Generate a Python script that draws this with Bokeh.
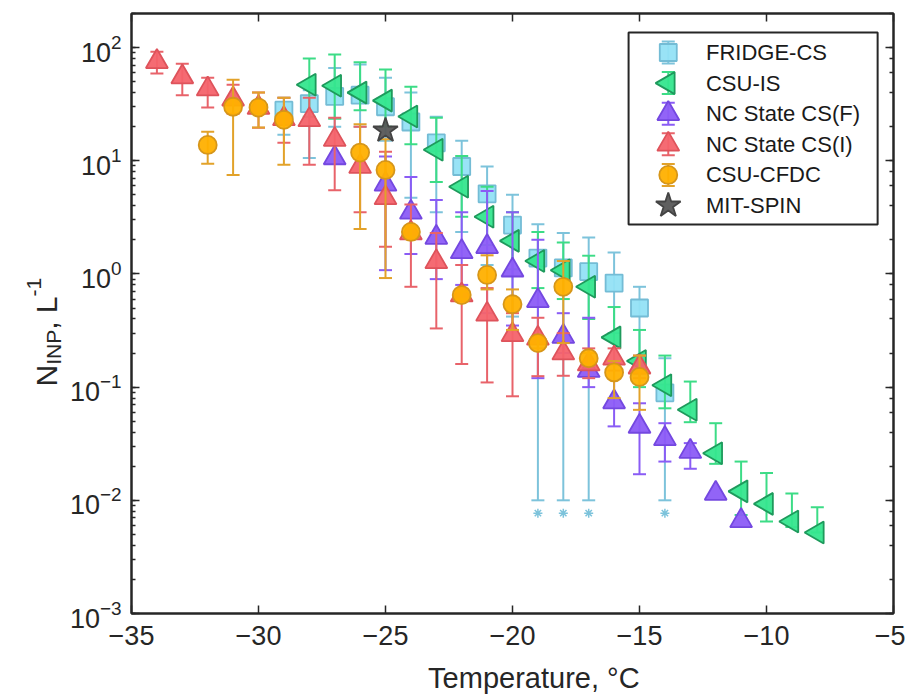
import numpy as np
from bokeh.plotting import figure
from bokeh.layouts import row, column
from bokeh.models import (Range1d, LinearScale, LinearAxis, LogAxis, FixedTicker, LogTicker,
                          CustomJSTickFormatter)
from bokeh.core.properties import value
from bokeh.embed import file_html
from bokeh.resources import INLINE

FONT = "Liberation Sans"
AX = "#262626"

x_ticks = [-35, -30, -25, -20, -15, -10, -5]
x_limits = (-35, -5)
y_limits = (1e-3, 200)
x_title = "Temperature, °C"

series_names = ["FRIDGE-CS", "CSU-IS", "NC State CS(F)", "NC State CS(I)", "CSU-CFDC", "MIT-SPIN"]

# FRIDGE-CS
fr_T = [-29, -28, -27, -26, -25, -24, -23, -22, -21, -20, -19, -18, -17, -16, -15, -14]
fr_N = [28, 32, 37, 38, 30, 22, 14.4, 8.9, 5.1, 2.7, 1.38, 1.13, 1.05, 0.83, 0.50, 0.089]
fr_hi = [36, 42, 66, 71, 54, 40, 24.5, 15, 8.9, 5.0, 2.75, 2.3, 2.1, 1.55, 0.77, 0.18]
fr_lo = [17, 10.6, 20, 20, 15, 4.7, 3.5, 2.35, 1.2, 0.42, 0.01, 0.01, 0.01, 0.3, 0.13, 0.01]

# CSU-IS
is_T = [-28, -27, -26, -25, -24, -23, -22, -21, -20, -19, -18, -17, -16, -15, -14, -13, -12, -11, -10, -9, -8]
is_N = [47, 46, 40, 34, 24.6, 12.5, 5.9, 3.2, 1.96, 1.3, 1.08, 0.77, 0.275, 0.17, 0.104, 0.063, 0.026, 0.012, 0.0093, 0.0065, 0.0052]
is_hi = [80, 87, 74, 64, 45, 24, 11, 5.9, 3.5, 2.35, 1.9, 1.45, 0.51, 0.32, 0.19, 0.112, 0.048, 0.022, 0.0174, 0.0115, 0.0087]
is_lo = [24.5, 23.5, 28, 20, 14, 6.5, 3.2, 1.8, 1.1, 0.75, 0.6, 0.4, 0.16, 0.1, 0.065, 0.049, 0.021, 0.0074, 0.0065, 0.0058, 0.0052]

# NC State CS(F)
ncf_T = [-27, -25, -24, -23, -22, -21, -20, -19, -18, -17, -16, -15, -14, -13, -12, -11]
ncf_N = [10.6, 6.2, 3.5, 2.1, 1.57, 1.74, 1.08, 0.58, 0.28, 0.14, 0.074, 0.045, 0.035, 0.027, 0.0115, 0.0066]
ncf_hi = [None, 10.9, 7.2, 4.5, 3.5, 5.4, 3.5, 2.0, 0.45, 0.41, 0.16, 0.072, 0.048, 0.032, None, None]
ncf_lo = [None, 1.08, 1.5, 0.9, 0.8, 0.45, 0.35, 0.12, 0.2, 0.1, 0.045, 0.017, 0.022, 0.019, None, None]

# NC State CS(I)
nci_T = [-34, -33, -32, -31, -30, -29, -28, -27, -26, -25, -24, -23, -22, -21, -20, -19, -18, -17, -16, -15]
nci_N = [75, 55, 43, 35, 29.5, 23.5, 23, 15.4, 8.9, 4.7, 2.3, 1.28, 0.65, 0.44, 0.29, 0.27, 0.2, 0.16, 0.18, 0.15]
nci_hi = [92, 72, 54, 47, 40, 36, 36, 24, 20, 12, 4.1, 2.3, 1.2, 0.75, 0.45, 0.41, 0.3, 0.22, 0.22, 0.19]
nci_lo = [59, 38, 29.5, 26, 19.6, 14.4, 9.2, 5.5, 3.5, 1.74, 0.77, 0.33, 0.16, 0.11, 0.083, 0.125, 0.126, 0.12, 0.14, 0.12]

# CSU-CFDC
cf_T = [-32, -31, -30, -29, -26, -25, -24, -22, -21, -20, -19, -18, -17, -16, -15]
cf_N = [13.8, 30, 29.5, 23, 11.8, 8.3, 2.35, 0.65, 0.98, 0.54, 0.245, 0.77, 0.18, 0.135, 0.123]
cf_hi = [18, 52, 40, 36, 21, 15.5, 2.6, 0.7, 1.46, 0.73, 0.27, 1.3, 0.2, 0.17, 0.19]
cf_lo = [9.4, 7.5, 19.7, 9.2, 2.5, 0.92, 2.1, 0.6, 0.73, 0.32, 0.22, 0.245, 0.16, 0.08, 0.063]

# MIT-SPIN
sp_T = [-25]
sp_N = [18.5]

FRAME_W, FRAME_H = 768, 600
LEFT_W, H, W = 66, 694, 905
STRIP_H = 36
MAIN_W = W - LEFT_W
MAIN_H = H - STRIP_H

# ---------------- y-axis title panel ----------------
lab = figure(width=LEFT_W, height=H, x_range=Range1d(0, LEFT_W), y_range=Range1d(0, H),
             x_axis_location=None, y_axis_location=None, title=None, output_backend="svg",
             toolbar_location=None, min_border=0, outline_line_color=None,
             background_fill_color="white", border_fill_color="white")
lab.xgrid.visible = False
lab.ygrid.visible = False
bx, y0 = 46, 308
pieces = [("N", 30, 0, 0.722 * 30), ("INP", 21, 7, 1.667 * 21), (", L", 30, 0, 1.112 * 30), ("-1", 21, -13, 0.889 * 21)]
yy = y0
for txt, fs, dx, w in pieces:
    lab.text(x=[bx + dx], y=[yy], text=[txt], angle=np.pi / 2, text_align="left",
             text_baseline="alphabetic", text_font=value(FONT), text_font_size=f"{fs}px",
             text_color=AX)
    yy += w

# ---------------- x-axis title strip ----------------
strip = figure(width=MAIN_W, height=STRIP_H, x_range=Range1d(0, MAIN_W), y_range=Range1d(0, STRIP_H),
               x_axis_location=None, y_axis_location=None, title=None, output_backend="svg",
               toolbar_location=None, min_border=0, outline_line_color=None,
               background_fill_color="white", border_fill_color="white")
strip.xgrid.visible = False
strip.ygrid.visible = False
strip.text(x=[(125 - LEFT_W) + FRAME_W / 2], y=[17], text=[x_title], text_align="center",
           text_baseline="alphabetic", text_font=value(FONT), text_font_size="29px", text_color=AX)

# ---------------- main plot ----------------
p = figure(width=MAIN_W, height=MAIN_H, x_range=Range1d(*x_limits), y_range=Range1d(*y_limits),
           y_axis_type="log", title=None, output_backend="svg", toolbar_location=None,
           min_border_left=125 - LEFT_W, min_border_right=12, min_border_top=13,
           min_border_bottom=MAIN_H - 13 - FRAME_H,
           background_fill_color="white", border_fill_color="white",
           outline_line_color=AX, outline_line_width=2)
p.xgrid.visible = False
p.ygrid.visible = False
p.extra_x_ranges = {"px": Range1d(0, FRAME_W)}
p.extra_y_ranges = {"py": Range1d(0, FRAME_H)}
p.extra_x_scales = {"px": LinearScale()}
p.extra_y_scales = {"py": LinearScale()}


def style_axis(ax, labels=True, minor=True):
    ax.axis_line_color = AX
    ax.axis_line_width = 2
    ax.major_tick_line_color = AX
    ax.major_tick_line_width = 1.5
    ax.minor_tick_line_color = AX
    ax.minor_tick_line_width = 1.5
    ax.major_tick_in = 8
    ax.major_tick_out = 0
    ax.minor_tick_in = 4 if minor else 0
    ax.minor_tick_out = 0
    if labels:
        ax.major_label_text_font = FONT
        ax.major_label_text_font_size = "27px"
        ax.major_label_text_color = AX
    else:
        ax.formatter = CustomJSTickFormatter(code="return ''")
        ax.major_label_text_font_size = "0px"
        ax.major_label_standoff = 0


xaxis = p.xaxis[0]
xaxis.ticker = FixedTicker(ticks=x_ticks)
style_axis(xaxis, True, False)
xaxis.major_label_standoff = 12

yaxis = p.yaxis[0]
style_axis(yaxis, True, True)
yaxis.major_label_standoff = 10

top = LinearAxis(ticker=FixedTicker(ticks=x_ticks))
style_axis(top, False, False)
p.add_layout(top, "above")
right = LogAxis(ticker=LogTicker())
style_axis(right, False, True)
p.add_layout(right, "right")


def draw(T, N, lo, hi, bar_color, marker, size, fill, line, angle=0.0):
    T = np.array(T, dtype=float)
    N = np.array(N, dtype=float)
    if lo is not None:
        lo = np.array(lo, dtype=float)
        hi = np.array(hi, dtype=float)
        p.segment(x0=T, y0=lo, x1=T, y1=hi, line_color=bar_color, line_width=2)
        p.scatter(T, lo, marker="dash", size=13, line_color=bar_color, line_width=2)
        p.scatter(T, hi, marker="dash", size=13, line_color=bar_color, line_width=2)
    p.scatter(T, N, marker=marker, size=size, angle=angle, fill_color=fill,
              line_color=line, line_width=1.8, fill_alpha=0.95)


styles = [
    dict(bar_color="#7DC3DB", marker="square", size=17, fill="#93E1F6", line="#74BCD5"),
    dict(bar_color="#3CDC86", marker="triangle", size=22, fill="#35E68E", line="#1E9A5C", angle=np.pi / 2),
    dict(bar_color="#8A5CF5", marker="triangle", size=22, fill="#8C5CF7", line="#7448E0"),
    dict(bar_color="#E8636A", marker="triangle", size=22, fill="#F4636B", line="#DE535B"),
    dict(bar_color="#E2A22A", marker="circle", size=18, fill="#FFB000", line="#D6961A"),
    dict(bar_color=None, marker="star", size=26, fill="#575757", line="#444444"),
]

draw(fr_T, fr_N, fr_lo, fr_hi, **styles[0])
# asterisks for FRIDGE lower bounds below the plotted floor
ast_T = [t for t, l in zip(fr_T, fr_lo) if l <= 0.01]
ast_y = [l * 0.77 for l in fr_lo if l <= 0.01]
p.scatter(ast_T, ast_y, marker="asterisk", size=9, line_color="#7DC3DB", line_width=1.5)
draw(is_T, is_N, is_lo, is_hi, **styles[1])
draw(ncf_T, ncf_N, ncf_lo, ncf_hi, **styles[2])
draw(nci_T, nci_N, nci_lo, nci_hi, **styles[3])
draw(cf_T, cf_N, cf_lo, cf_hi, **styles[4])
draw(sp_T, sp_N, None, None, **styles[5])

# ---- legend (frame pixel coordinates) ----
leg_left, leg_right, leg_top, leg_bottom = 501, 752, 581, 389
p.quad(left=[leg_left], right=[leg_right], top=[leg_top], bottom=[leg_bottom],
       fill_color="white", line_color=AX, line_width=2, x_range_name="px", y_range_name="py")
row0, pitch, gx, tx = 561, 30.6, 541, 579
rows = [row0 - i * pitch for i in range(len(series_names))]
for i, st in enumerate(styles):
    y = rows[i]
    if st["bar_color"] is not None:
        p.segment(x0=[gx], y0=[y - 11], x1=[gx], y1=[y + 11], line_color=st["bar_color"], line_width=2,
                  x_range_name="px", y_range_name="py")
        p.scatter([gx, gx], [y - 11, y + 11], marker="dash", size=13, line_color=st["bar_color"],
                  line_width=2, x_range_name="px", y_range_name="py")
    p.scatter([gx], [y], marker=st["marker"], size=st["size"], angle=st.get("angle", 0.0),
              fill_color=st["fill"], line_color=st["line"], line_width=1.8, fill_alpha=0.95,
              x_range_name="px", y_range_name="py")
p.text(x=[tx] * len(series_names), y=rows, text=series_names, text_font=value(FONT),
       text_font_size="22px", text_baseline="middle", text_color="#1A1A1A",
       x_range_name="px", y_range_name="py")

layout = row(lab, column(p, strip, spacing=0), spacing=0)
open("out.html", "w").write(file_html(layout, INLINE))
